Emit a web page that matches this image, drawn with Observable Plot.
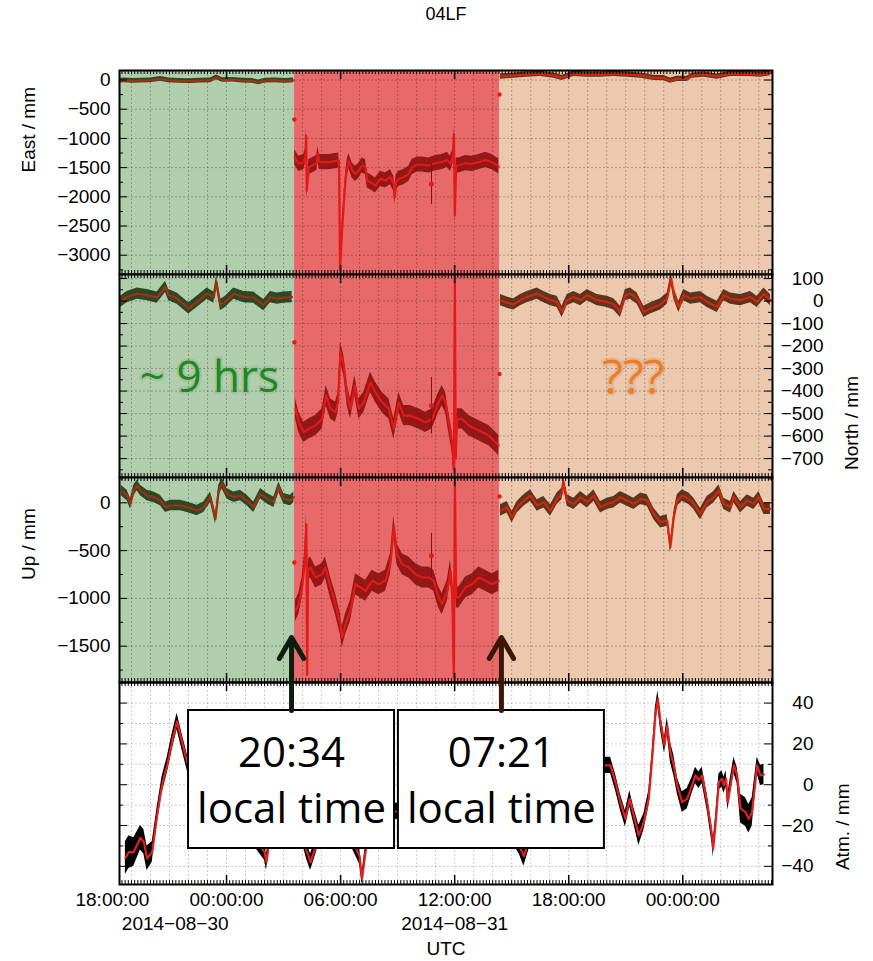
<!DOCTYPE html>
<html><head><meta charset="utf-8">
<script src="https://cdn.jsdelivr.net/npm/d3@7"></script>
<script src="https://cdn.jsdelivr.net/npm/@observablehq/plot@0.6"></script>
<style>
body{margin:0;background:#fff;}
#fig{position:relative;width:873px;height:961px;background:#fff;overflow:hidden;font-family:"Liberation Sans",Arial,sans-serif;}
#fig svg{position:absolute;left:0;}
#title{position:absolute;top:4px;left:346px;width:200px;text-align:center;font-size:18px;color:#000;}
</style></head>
<body><div id="fig"><div id="title">04LF</div></div>
<script>
// ---------- time axis (hours after 2014-08-29 18:00 UTC) ----------
const baseUTC = Date.UTC(2014, 7, 29, 18);
const domainHours = [0.37, 34.72];
const eventHours = [9.57, 20.36];          // background region boundaries
const arrowHours = [9.42, 20.46];          // arrows / boxes
const arrowLabels = ["20:34\nlocal time", "07:21\nlocal time"];
const arrowColors = ["#0c1e0c", "#3b1707"];
const arrowSpanAtm = [36.4, 72.2];          // arrow tail/tip in Atm units
const majorTickHours = [0, 6, 12, 18, 24, 30];
const dateLabelHours = [3.3, 18];
const dateLabelTexts = ["2014−08−30", "2014−08−31"];

// ---------- East (mm): [hour, value] ----------
const eastGreen = [[0.37,-10],[0.68,-5],[1.05,-15],[1.47,-10],[2.00,-5],[2.53,20],[2.95,-5],[3.47,-15],[4.10,-20],[4.63,-10],[5.16,-5],[5.47,45],[5.79,0],[6.31,5],[6.84,-10],[7.36,-15],[7.68,-40],[8.05,-10],[8.57,-5],[9.10,-15],[9.52,-5]];
const eastRed = [[9.59,-1322],[9.80,-1435],[10.06,-1407],[10.15,-1300],[10.19,-950],[10.22,-1900],[10.33,-1493],[10.50,-1464],[10.75,-1420],[10.80,-1264],[10.88,-1400],[11.03,-1407],[11.38,-1407],[11.73,-1390],[11.91,-1378],[11.94,-2063],[11.97,-3250],[12.08,-2577],[12.17,-2120],[12.26,-1721],[12.35,-1493],[12.43,-1390],[12.61,-1550],[12.78,-1607],[12.96,-1550],[13.13,-1464],[13.31,-1493],[13.40,-1721],[13.57,-1749],[13.83,-1806],[14.10,-1692],[14.36,-1721],[14.62,-1664],[14.80,-1780],[14.85,-2006],[14.92,-1750],[15.06,-1692],[15.32,-1664],[15.59,-1607],[15.76,-1493],[16.03,-1447],[16.29,-1447],[16.64,-1464],[16.99,-1424],[17.34,-1407],[17.61,-1367],[17.78,-1435],[17.92,-1300],[17.96,-922],[18.01,-2320],[18.08,-1464],[18.22,-1464],[18.57,-1424],[18.92,-1435],[19.27,-1407],[19.62,-1367],[19.97,-1407],[20.32,-1481]];
const eastPeach = [[20.41,60],[21.11,77],[21.81,94],[22.51,106],[23.22,77],[23.65,37],[24.27,106],[24.97,94],[25.67,94],[26.37,106],[27.07,94],[27.78,77],[28.48,37],[29.00,31],[29.35,-9],[29.70,20],[30.23,20],[30.49,77],[31.11,94],[31.81,60],[32.51,106],[33.39,106],[34.09,94],[34.61,117]];
const eastJumps = [[9.57,-676],[20.36,-248]];
const eastOutliers = [[16.78,-1780,350]];
const eastErr = [40, 130, 45];

// ---------- North (mm) ----------
const northGreen = [[0.42,-4],[0.77,18],[1.30,33],[1.82,26],[2.35,15],[2.79,63],[2.96,26],[3.40,11],[4.01,-33],[4.45,-4],[4.98,33],[5.33,15],[5.47,85],[5.68,-18],[5.94,-4],[6.38,33],[6.91,18],[7.43,15],[7.96,-18],[8.31,18],[8.66,11],[9.01,15],[9.45,18]];
const northRed = [[9.63,-479],[9.80,-539],[10.06,-583],[10.33,-568],[10.68,-553],[11.03,-524],[11.24,-420],[11.47,-479],[11.73,-494],[11.87,-450],[11.99,-227],[12.17,-286],[12.35,-420],[12.52,-479],[12.75,-376],[12.96,-479],[13.22,-450],[13.57,-361],[13.83,-405],[14.18,-450],[14.54,-479],[14.80,-568],[15.06,-450],[15.32,-509],[15.67,-509],[16.11,-524],[16.46,-539],[16.81,-524],[17.16,-450],[17.34,-420],[17.52,-450],[17.69,-539],[17.87,-627],[17.96,-746],[18.01,113],[18.06,-700],[18.13,-524],[18.39,-524],[18.74,-553],[19.09,-568],[19.45,-583],[19.80,-598],[20.15,-627],[20.32,-642]];
const northPeach = [[20.41,4],[20.76,-7],[21.11,-15],[21.46,4],[21.81,18],[22.34,33],[22.69,18],[23.04,4],[23.39,-4],[23.65,-48],[23.92,4],[24.27,18],[24.62,4],[24.97,26],[25.50,4],[26.02,-4],[26.37,-15],[26.72,-48],[26.98,26],[27.25,33],[27.60,11],[27.95,-48],[28.30,-33],[28.83,-15],[29.18,11],[29.39,100],[29.53,33],[29.79,-26],[30.05,26],[30.41,11],[30.93,18],[31.28,-4],[31.81,-26],[32.16,26],[32.51,11],[33.04,4],[33.56,18],[33.91,-4],[34.27,33],[34.61,4]];
const northJumps = [[9.57,-183],[20.36,-324]];
const northOutliers = [[16.78,-465,126]];
const northErr = [25, 45, 25];

// ---------- Up (mm) ----------
const upGreen = [[0.46,129],[0.77,76],[0.95,-11],[1.12,129],[1.30,181],[1.47,129],[1.82,76],[2.17,59],[2.52,24],[2.79,-46],[3.05,-28],[3.58,-28],[3.93,-46],[4.45,-81],[4.80,-46],[5.16,59],[5.42,-168],[5.59,129],[5.77,199],[6.03,94],[6.38,59],[6.73,76],[7.08,24],[7.43,-46],[7.79,94],[8.14,42],[8.49,7],[8.75,164],[9.01,42],[9.36,24],[9.54,59]];
const upRed = [[9.63,-1130],[9.80,-1060],[9.98,-886],[10.12,-607],[10.20,-224],[10.24,-1800],[10.29,-700],[10.42,-677],[10.68,-781],[11.03,-746],[11.20,-677],[11.47,-886],[11.73,-1060],[11.99,-1270],[12.08,-1409],[12.26,-1270],[12.52,-1130],[12.78,-851],[13.05,-886],[13.31,-921],[13.66,-816],[14.01,-851],[14.36,-816],[14.62,-642],[14.80,-250],[14.97,-537],[15.24,-642],[15.59,-677],[15.94,-746],[16.29,-781],[16.64,-781],[16.90,-816],[17.16,-990],[17.34,-1060],[17.61,-921],[17.78,-711],[17.87,-900],[17.96,-1827],[18.01,265],[18.08,-990],[18.22,-990],[18.57,-886],[18.92,-851],[19.27,-781],[19.62,-816],[19.97,-851],[20.32,-816]];
const upPeach = [[20.41,-81],[20.76,-46],[21.02,-150],[21.29,-46],[21.64,24],[21.99,76],[22.34,-28],[22.69,7],[23.04,-81],[23.39,42],[23.65,94],[23.71,233],[23.92,24],[24.27,-11],[24.62,59],[24.97,7],[25.32,76],[25.67,-46],[26.02,-11],[26.37,7],[26.72,59],[27.07,24],[27.42,-11],[27.78,42],[28.13,24],[28.48,-116],[28.83,-203],[29.18,-185],[29.35,-464],[29.53,-150],[29.71,24],[29.97,76],[30.32,42],[30.58,-11],[30.93,-116],[31.28,7],[31.63,59],[31.90,129],[32.16,-11],[32.51,-46],[32.69,59],[33.04,-46],[33.39,24],[33.74,-11],[34.00,59],[34.27,-63],[34.61,-63]];
const upJumps = [[9.57,-624],[20.36,66]];
const upOutliers = [[16.78,-555,235]];
const upErr = [55, 110, 60];

// ---------- Atm. (mm): [hour, value, spread] ----------
const atm = [[0.68,-36,8],[0.86,-33,8],[1.12,-33,7],[1.47,-26,6],[1.65,-28,6],[1.82,-36,6],[2.09,-33,5],[2.35,-15,4],[2.61,0,4],[2.88,9.5,4],[3.14,21,4],[3.40,31,4],[3.66,21,4],[3.93,11,4],[4.30,2,4],[4.70,-8,4],[5.20,-15,4],[5.80,-20,4],[6.50,-18,4],[7.00,-25,4],[7.60,-28,4],[8.00,-33,4],[8.10,-38,4],[8.25,-28,4],[8.60,-15,4],[9.00,-10,4],[9.40,-12,4],[9.80,-18,4],[10.20,-32,4],[10.42,-38,4],[10.70,-30,4],[11.00,-20,4],[11.50,-15,4],[12.00,-20,4],[12.50,-25,4],[13.00,-35,4],[13.13,-46,3],[13.35,-30,4],[13.80,-18,4],[14.30,-14,4],[14.98,-13,4],[15.50,-8,4],[16.00,0,4],[16.50,5,4],[17.00,-3,4],[17.50,-10,4],[18.00,-5,4],[18.50,2,4],[19.00,-6,4],[19.50,-14,4],[20.00,-20,4],[20.50,-18,4],[21.00,-24,4],[21.40,-30,4],[21.64,-35,5],[21.90,-28,4],[22.30,-15,4],[22.80,-5,4],[23.30,2,4],[23.80,-4,4],[24.30,0,4],[24.80,3,4],[25.30,6,4],[25.93,9.5,4],[26.20,9.5,4],[26.46,1.3,4],[26.72,-8.5,4],[26.98,-16.7,4],[27.21,-6.9,4],[27.42,-15,4],[27.69,-24.8,5],[27.95,-18.3,4],[28.21,-6.9,4],[28.39,12.7,4],[28.56,34,4],[28.69,42.1,4],[28.83,30.7,4],[29.04,19.3,4],[29.18,29,4],[29.35,15.9,5],[29.53,9.5,5],[29.71,-0.3,4],[29.97,-8.5,5],[30.23,-6.9,5],[30.49,-0.3,4],[30.67,4.6,4],[30.84,2.2,4],[31.02,4.6,4],[31.28,-8.5,4],[31.54,-24.8,4],[31.60,-31.4,4],[31.72,-19.9,4],[31.90,1.3,4],[32.07,2.9,4],[32.16,-0.3,4],[32.28,2.9,4],[32.37,-8.5,4],[32.51,-0.3,4],[32.69,9.5,4],[32.86,4.6,4],[33.04,-11.7,7],[33.30,-13.4,7],[33.47,-16.7,7],[33.65,-13.4,7],[33.91,9.5,4],[34.09,4.6,5],[34.27,5,5]];

// ---------- text annotations ----------
const notes = [{h:5.1, v:-402, text:"~ 9 hrs", color:"#1c8a1c", size:44},{h:27.4, v:-411, text:"???", color:"#f47c20", size:48}];

// ---------- panel axes ----------
const eastY = {domain:[-3330,163], major:[0,-500,-1000,-1500,-2000,-2500,-3000], minor:[-250,-750,-1250,-1750,-2250,-2750,-3250]};
const northY = {domain:[-784,118], major:[100,0,-100,-200,-300,-400,-500,-600,-700], minor:[50,-50,-150,-250,-350,-450,-550,-650,-750]};
const upY = {domain:[-1880,265], major:[0,-500,-1000,-1500], minor:[250,-250,-750,-1250,-1750]};
const atmY = {domain:[-48.9,50.1], major:[40,20,0,-20,-40], minor:[30,10,-10,-30]};
const atmGrid = [40,30,20,10,0,-10,-20,-30,-40];

// ---------- styling ----------
const regionFill = ["#b0cdac", "#e8696a", "#ecc8ae"];
const bandFill = ["#1d3a18", "#8a0f0f", "#4d2612"];
const lineStroke = ["#a3300e", "#e31a1a", "#d4260c"];
const FRAME_W = 653, LEFT = 119, RIGHT = 101, W = 873, FS = 19;

const T = h => new Date(baseUTC + h * 3600e3);
const t0 = T(domainHours[0]), t1 = T(domainHours[1]);
const hourly = d3.utcHour.range(t0, t1);
const tenMin = d3.utcMinute.every(10).range(t0, t1);
const sixHour = majorTickHours.map(T).filter(d => d >= t0 && d <= t1);
const fmtY = d => d < 0 ? "\u2212" + Math.abs(d) : String(d);
const rows = a => a.map(([h, v, e]) => ({t: T(h), v, e}));
const baseStyle = {background: "transparent", overflow: "visible", fontFamily: "Liberation Sans, Arial, sans-serif", fontSize: FS + "px", color: "black"};

function frameTicks(frameH, yAx) {
  const k = {stroke: "black", strokeWidth: 1};
  return [
    Plot.ruleX(tenMin, {...k, insetTop: frameH - 4}),
    Plot.ruleX(tenMin, {...k, insetBottom: frameH - 4}),
    Plot.ruleX(sixHour, {...k, strokeWidth: 1.5, insetTop: frameH - 9}),
    Plot.ruleX(sixHour, {...k, strokeWidth: 1.5, insetBottom: frameH - 9}),
    Plot.ruleY(yAx.major, {...k, insetRight: FRAME_W - 8}),
    Plot.ruleY(yAx.major, {...k, insetLeft: FRAME_W - 8}),
    Plot.ruleY(yAx.minor, {...k, insetRight: FRAME_W - 4}),
    Plot.ruleY(yAx.minor, {...k, insetLeft: FRAME_W - 4})
  ];
}

function gpsPanel({frameTop, frameH, yAx, segs, err, jumps, outliers, side, label, labelDx, extra = []}) {
  const mt = 20, mb = 20;
  const regions = [
    {a: t0, b: T(eventHours[0]), i: 0},
    {a: T(eventHours[0]), b: T(eventHours[1]), i: 1},
    {a: T(eventHours[1]), b: t1, i: 2}
  ];
  const seriesMarks = [];
  segs.forEach((seg, i) => {
    const d = rows(seg);
    seriesMarks.push(Plot.areaY(d, {x: "t", y1: r => r.v - err[i], y2: r => r.v + err[i], fill: bandFill[i], fillOpacity: 0.9}));
    seriesMarks.push(Plot.line(d, {x: "t", y: "v", stroke: lineStroke[i], strokeWidth: 2.2}));
  });
  const out = rows(outliers);
  const svg = Plot.plot({
    width: W, height: mt + frameH + mb,
    marginLeft: LEFT, marginRight: RIGHT, marginTop: mt, marginBottom: mb,
    style: baseStyle,
    x: {type: "utc", domain: [t0, t1], axis: null, label: null},
    y: {domain: yAx.domain, axis: null, label: null},
    marks: [
      Plot.rect(regions, {x1: "a", x2: "b", fill: r => regionFill[r.i]}),
      Plot.ruleX(hourly, {stroke: "black", strokeOpacity: 0.25, strokeDasharray: "2,2"}),
      Plot.ruleY(yAx.major, {stroke: "black", strokeOpacity: 0.25, strokeDasharray: "2,2"}),
      ...seriesMarks,
      Plot.ruleX(out, {x: "t", y1: r => r.v - r.e, y2: r => r.v + r.e, stroke: "#8a0f0f", strokeWidth: 1}),
      Plot.dot(out, {x: "t", y: "v", r: 2.5, fill: "#e31a1a"}),
      Plot.dot(rows(jumps), {x: "t", y: "v", r: 2.2, fill: "#e31a1a"}),
      Plot.frame({stroke: "black", strokeWidth: 2}),
      ...frameTicks(frameH, yAx),
      side === "left"
        ? Plot.axisY({anchor: "left", ticks: yAx.major, tickSize: 0, tickPadding: 9, tickFormat: fmtY, fontSize: FS, label: null})
        : Plot.axisY({anchor: "right", ticks: yAx.major, tickSize: 0, tickPadding: 51, textAnchor: "end", tickFormat: fmtY, fontSize: FS, label: null}),
      Plot.text([label], {text: d => d, frameAnchor: side, rotate: -90, dx: labelDx, fontSize: FS}),
      ...extra
    ]
  });
  svg.style.top = (frameTop - mt) + "px";
  document.getElementById("fig").appendChild(svg);
}

const noteMarks = [
  Plot.text(notes, {x: d => T(d.h), y: "v", text: "text", fill: d => d.color, fontSize: d => d.size, fontFamily: "Open Sans", lineAnchor: "bottom", stroke: "black", strokeOpacity: 0.06, strokeWidth: 5, paintOrder: "stroke"})
];

gpsPanel({frameTop: 70, frameH: 204, yAx: eastY, segs: [eastGreen, eastRed, eastPeach], err: eastErr, jumps: eastJumps, outliers: eastOutliers, side: "left", label: "East / mm", labelDx: -91});
gpsPanel({frameTop: 274, frameH: 203, yAx: northY, segs: [northGreen, northRed, northPeach], err: northErr, jumps: northJumps, outliers: northOutliers, side: "right", label: "North / mm", labelDx: 79, extra: noteMarks});
gpsPanel({frameTop: 477, frameH: 205, yAx: upY, segs: [upGreen, upRed, upPeach], err: upErr, jumps: upJumps, outliers: upOutliers, side: "left", label: "Up / mm", labelDx: -91});

// ---------- Atm panel with arrows and boxes ----------
(function () {
  const frameTop = 682, frameH = 202, mt = 62, mb = 77;
  const d = rows(atm);
  const arrows = arrowHours.map((h, i) => ({t: T(h), label: arrowLabels[i], color: arrowColors[i]}));
  const svg = Plot.plot({
    width: W, height: mt + frameH + mb,
    marginLeft: LEFT, marginRight: RIGHT, marginTop: mt, marginBottom: mb,
    style: baseStyle,
    x: {type: "utc", domain: [t0, t1], axis: null, label: null},
    y: {domain: atmY.domain, axis: null, label: null},
    marks: [
      Plot.ruleX(hourly, {stroke: "black", strokeOpacity: 0.2, strokeDasharray: "2,2"}),
      Plot.ruleY(atmGrid, {stroke: "black", strokeOpacity: 0.2, strokeDasharray: "2,2"}),
      Plot.areaY(d, {x: "t", y1: r => r.v - r.e, y2: r => r.v + r.e, fill: "black"}),
      Plot.line(d, {x: "t", y: "v", stroke: "#e02020", strokeWidth: 2.2}),
      Plot.frame({stroke: "black", strokeWidth: 2}),
      ...frameTicks(frameH, atmY),
      Plot.axisY({anchor: "right", ticks: atmY.major, tickSize: 0, tickPadding: 41, textAnchor: "end", tickFormat: fmtY, fontSize: FS, label: null}),
      Plot.text(["Atm. / mm"], {text: d => d, frameAnchor: "right", rotate: -90, dx: 70, fontSize: FS}),
      Plot.axisX({anchor: "bottom", ticks: majorTickHours.map(T), tickSize: 0, tickPadding: 8, tickFormat: d3.utcFormat("%H:%M:%S"), fontSize: FS, label: null}),
      Plot.text(dateLabelHours, {x: h => T(h), text: (h, i) => dateLabelTexts[i], frameAnchor: "bottom", lineAnchor: "top", dy: 32, fontSize: FS}),
      Plot.text(["UTC"], {text: d => d, frameAnchor: "bottom", lineAnchor: "middle", dy: 64, fontSize: FS}),
      Plot.rect(arrows, {x1: "t", x2: "t", insetLeft: -103, insetRight: -103, insetTop: 28, insetBottom: 36, fill: "white", stroke: "black", strokeWidth: 2}),
      Plot.text(arrows, {x: "t", text: "label", frameAnchor: "top", lineAnchor: "bottom", dy: 140, lineHeight: 1.333, fontSize: 42, fontFamily: "Open Sans", fill: "black"}),
      Plot.arrow(arrows, {x1: "t", x2: "t", y1: () => arrowSpanAtm[0], y2: () => arrowSpanAtm[1], stroke: "color", strokeWidth: 5})
    ]
  });
  svg.style.top = (frameTop - mt) + "px";
  document.getElementById("fig").appendChild(svg);
})();
</script>
</body></html>
